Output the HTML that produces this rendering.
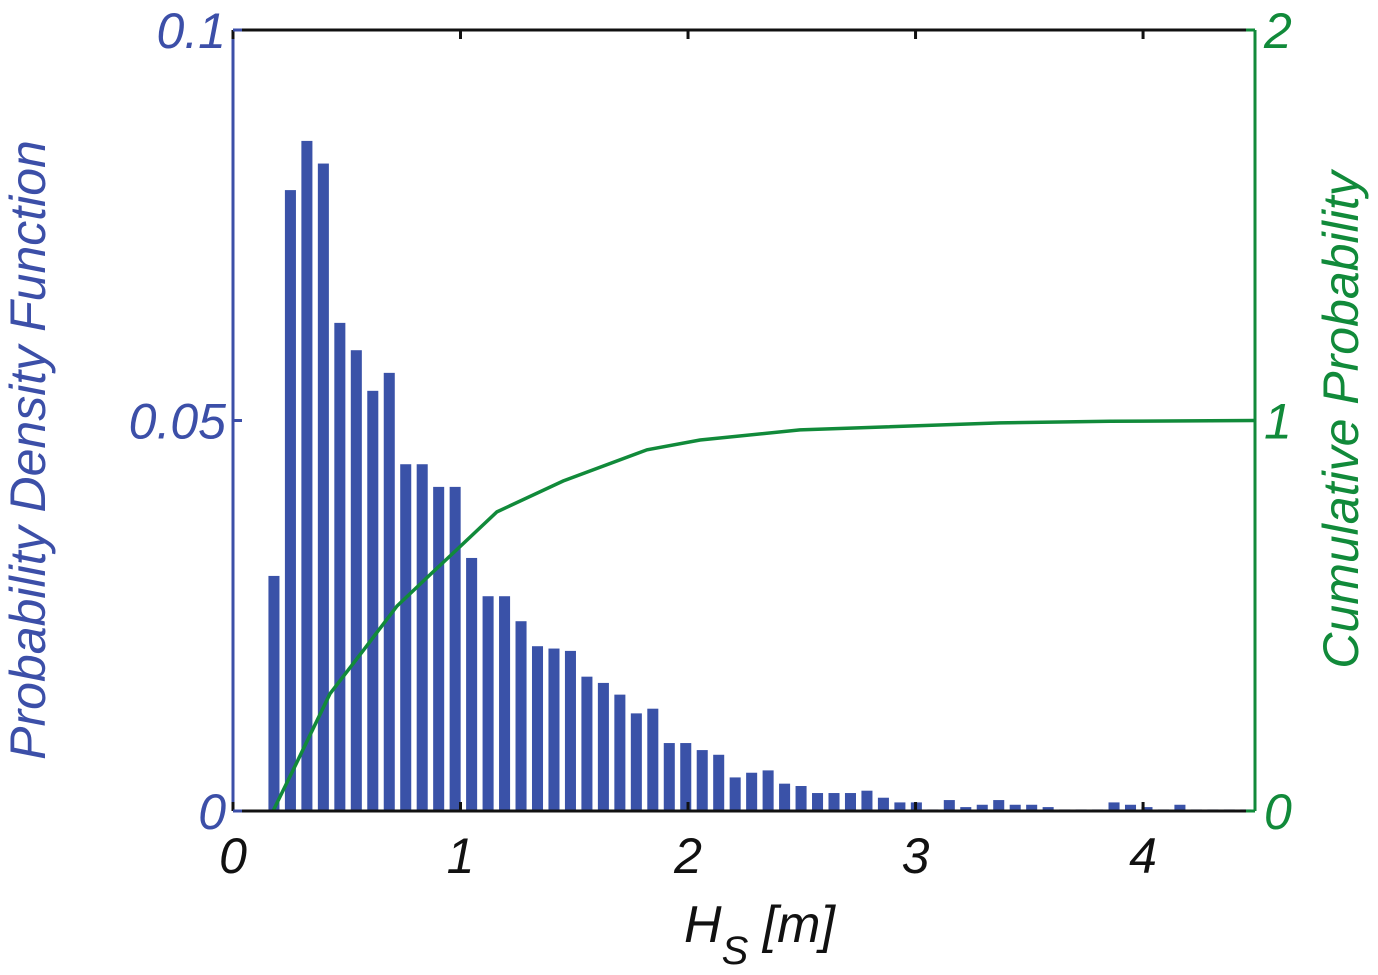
<!DOCTYPE html>
<html><head><meta charset="utf-8"><style>
html,body{margin:0;padding:0;background:#fff;}
svg{display:block;font-family:"Liberation Sans",sans-serif;font-style:italic;}
</style></head><body>
<svg id="chart" width="1378" height="975" viewBox="0 0 1378 975" xmlns="http://www.w3.org/2000/svg">
<g id="bars"></g>
<polyline id="cdf" fill="none" stroke="#118a3a" stroke-width="3.5"/>
<g id="axes"></g>
<text transform="translate(45,450) rotate(-90)" text-anchor="middle" font-size="50" fill="#3c4fa8">Probability Density Function</text>
<text transform="translate(1358,420) rotate(-90)" text-anchor="middle" font-size="50" fill="#118a3a">Cumulative Probability</text>
<text x="684" y="942" font-size="52" fill="#111">H<tspan font-size="40" dy="22">S</tspan><tspan dy="-22"> [m]</tspan></text>
</svg>
<script>
const binCenterStart = 0.18;
const binStep = 0.0724;
const pdfValues = [0.0301,0.0795,0.0858,0.0829,0.0625,0.0590,0.0538,0.0561,0.0444,0.0444,0.0415,0.0415,0.0324,0.0275,0.0275,0.0243,0.0211,0.0208,0.0205,0.0172,0.0164,0.0149,0.0125,0.0131,
0.0087,0.0087,0.0078,0.0072,0.0043,0.0049,0.0052,0.0035,0.0032,0.0023,0.0023,0.0023,0.0026,0.0017,0.0011,0.0011,0.0002,0.0014,0.0005,0.0008,0.0014,0.0008,0.0008,0.0005,0.0002,0.0002,0.0002,0.0011,0.0008,0.0005,0.0002,0.0008,0.0002,0.0002,0.0002,0.0002];
const cdfX = [0.176,0.281,0.426,0.571,0.721,0.866,0.985,1.160,1.451,1.820,2.053,2.492,3.371,3.855,4.492];
const cdfY = [0,0.125,0.30,0.41,0.525,0.605,0.67,0.766,0.845,0.925,0.95,0.976,0.994,0.998,1.0];
const xTicks = [0,1,2,3,4];
const leftTicks = [0,0.05,0.1];
const leftTickLabels = ["0","0.05","0.1"];
const rightTicks = [0,1,2];

const X0=233,X1=1255,Y0=811,Y1=30,XMAX=4.492;
const sx=v=>X0+v/XMAX*(X1-X0);
const syL=v=>Y0-v/0.1*(Y0-Y1);
const syR=v=>Y0-v/2*(Y0-Y1);
const NS="http://www.w3.org/2000/svg";
function mk(t,a){const e=document.createElementNS(NS,t);for(const k in a)e.setAttribute(k,a[k]);return e;}
const bars=document.getElementById('bars');
const bw=binStep*0.67;
pdfValues.forEach((v,i)=>{const c=binCenterStart+i*binStep;
 const r=mk('rect',{x:sx(c-bw/2),y:syL(v),width:sx(c+bw/2)-sx(c-bw/2),height:Y0-syL(v),fill:'#3a52a8'});
 
 
 bars.appendChild(r);});
document.getElementById('cdf').setAttribute('points',cdfX.map((x,i)=>sx(x)+','+syR(cdfY[i])).join(' '));
const ax=document.getElementById('axes');
ax.appendChild(mk('line',{x1:X0,y1:Y1,x2:X1,y2:Y1,stroke:'#111','stroke-width':3}));
ax.appendChild(mk('line',{x1:X0,y1:Y0,x2:X1,y2:Y0,stroke:'#111','stroke-width':3}));
ax.appendChild(mk('line',{x1:X0,y1:Y1,x2:X0,y2:Y0,stroke:'#3c4fa8','stroke-width':3}));
ax.appendChild(mk('line',{x1:X1,y1:Y1,x2:X1,y2:Y0,stroke:'#118a3a','stroke-width':3}));
xTicks.forEach(t=>{const x=sx(t);
 ax.appendChild(mk('line',{x1:x,y1:Y0,x2:x,y2:Y0-9,stroke:'#111','stroke-width':3}));
 ax.appendChild(mk('line',{x1:x,y1:Y1,x2:x,y2:Y1+9,stroke:'#111','stroke-width':3}));
 const tx=mk('text',{x:x,y:873,'text-anchor':'middle','font-size':50,fill:'#111'});
 
 
 tx.textContent=t;ax.appendChild(tx);});
leftTicks.forEach((t,i)=>{const y=syL(t);
 ax.appendChild(mk('line',{x1:X0,y1:y,x2:X0+9,y2:y,stroke:'#3c4fa8','stroke-width':3}));
 const tx=mk('text',{x:226,y:y+18,'text-anchor':'end','font-size':50,fill:'#3c4fa8'});
 
 
 tx.textContent=leftTickLabels[i];ax.appendChild(tx);});
rightTicks.forEach(t=>{const y=syR(t);
 ax.appendChild(mk('line',{x1:X1,y1:y,x2:X1-9,y2:y,stroke:'#118a3a','stroke-width':3}));
 const tx=mk('text',{x:1264,y:y+18,'text-anchor':'start','font-size':50,fill:'#118a3a'});
 
 
 tx.textContent=t;ax.appendChild(tx);});
</script>
</body></html>
